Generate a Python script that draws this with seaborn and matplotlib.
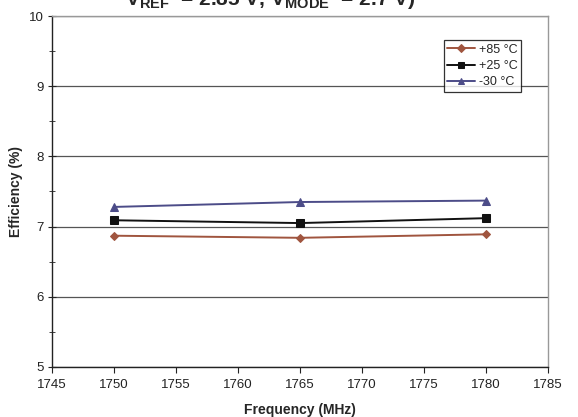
import numpy as np
import pandas as pd
import matplotlib
matplotlib.use("Agg")
import matplotlib.pyplot as plt
import seaborn as sns
from matplotlib.ticker import MultipleLocator

# data
freq_mhz = [1750, 1765, 1780]
eff_85 = [6.87, 6.84, 6.89]
eff_25 = [7.09, 7.05, 7.12]
eff_m30 = [7.28, 7.35, 7.37]
series_labels = ["+85 °C", "+25 °C", "-30 °C"]

sns.set_style("white")
plt.rcParams["font.family"] = ["Liberation Sans", "DejaVu Sans"]

fig = plt.figure(figsize=(5.78, 4.17), dpi=100)
ax = fig.add_axes([0.09, 0.12, 0.858, 0.8416])

styles = [
    ("#A0553F", "D", 4.5),
    ("#111111", "s", 5.5),
    ("#4C4C88", "^", 6.0),
]
for vals, lab, (col, mk, ms) in zip([eff_85, eff_25, eff_m30], series_labels, styles):
    df = pd.DataFrame({"freq": freq_mhz, "eff": vals})
    sns.lineplot(data=df, x="freq", y="eff", ax=ax, color=col, marker=mk,
                 markersize=ms, markeredgecolor=col, linewidth=1.4, label=lab)

ax.set_xlim(1745, 1785)
ax.set_ylim(5, 10)
ax.xaxis.set_major_locator(MultipleLocator(5))
ax.yaxis.set_major_locator(MultipleLocator(1))
ax.yaxis.set_minor_locator(MultipleLocator(0.5))
ax.grid(axis="y", which="major", color="#555555", linewidth=0.9)
ax.set_axisbelow(True)

for s in ["left", "bottom"]:
    ax.spines[s].set_color("#222222")
    ax.spines[s].set_linewidth(1.0)
for s in ["right", "top"]:
    ax.spines[s].set_color("#999999")
    ax.spines[s].set_linewidth(1.0)

ax.tick_params(axis="both", which="both", color="#222222",
               labelsize=9.5, labelcolor="#222222")
ax.tick_params(axis="x", which="major", direction="out", length=4, bottom=True, pad=5)
ax.tick_params(axis="y", which="major", direction="inout", length=6, left=True, pad=3)
ax.tick_params(axis="y", which="minor", direction="inout", length=5, left=True)

ax.set_xlabel("Frequency (MHz)", fontsize=10, fontweight="bold", labelpad=8)
ax.set_ylabel("Efficiency (%)", fontsize=10, fontweight="bold", labelpad=4)

leg = ax.legend(loc="upper right", bbox_to_anchor=(0.946, 0.932), fontsize=9,
                frameon=True, fancybox=False, borderpad=0.3, handlelength=2.2,
                handletextpad=0.3, labelspacing=0.35, borderaxespad=0,
                markerscale=0.8)
leg.get_frame().set_edgecolor("#000000")
leg.get_frame().set_linewidth(0.9)

# title is clipped at the top edge of the reference image
fig.text(0.468, 0.988, r"V$_\mathregular{REF}$  = 2.85 V, V$_\mathregular{MODE}$  = 2.7 V)",
         ha="center", va="baseline", fontsize=15, fontweight="bold")

fig.savefig("out.png", dpi=100)
